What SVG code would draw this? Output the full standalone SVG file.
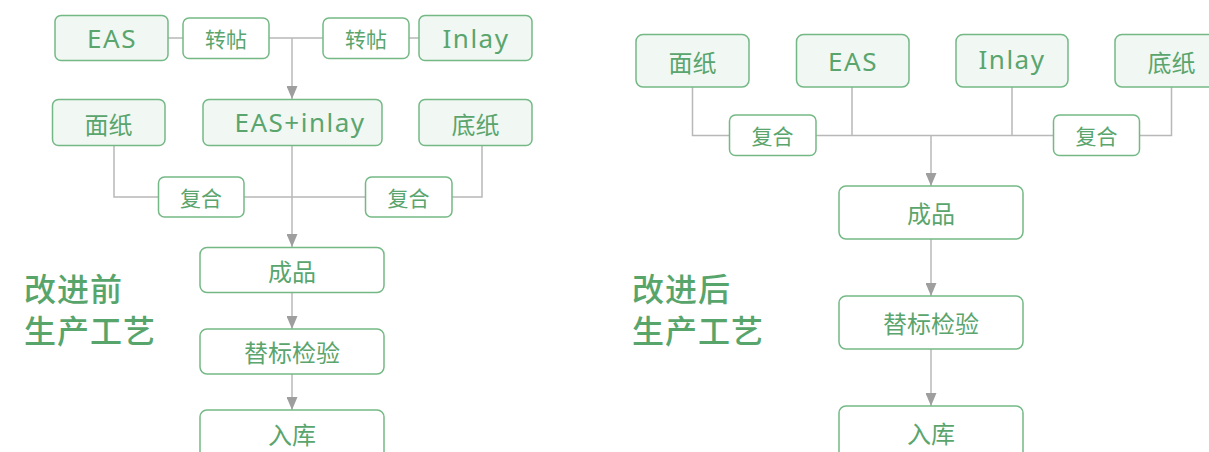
<svg xmlns="http://www.w3.org/2000/svg" width="1209" height="452" viewBox="0 0 1209 452">
<style>
.main{fill:#f1f7f3;stroke:#74b985;stroke-width:1.5}
.plain{fill:#ffffff;stroke:#74b985;stroke-width:1.5}
.cn{font-family:"Noto Sans","Noto Sans CJK SC",sans-serif;font-size:24px;fill:#5aa56d;text-anchor:middle;dominant-baseline:central}
.cs{font-family:"Noto Sans","Noto Sans CJK SC",sans-serif;font-size:21px;fill:#5aa56d;text-anchor:middle;dominant-baseline:central}
.en{font-family:"Noto Sans","Noto Sans CJK SC",sans-serif;font-size:26px;fill:#5aa56d;text-anchor:middle;letter-spacing:1.5px}
.title{font-family:"Noto Sans CJK SC",sans-serif;font-size:32px;font-weight:500;fill:#58a56c;letter-spacing:1px}
.ln{fill:none;stroke:#b8b8b8;stroke-width:1.5}
</style>
<defs>
<marker id="arr" markerWidth="13" markerHeight="11" refX="13" refY="5.5" orient="auto" markerUnits="userSpaceOnUse">
<path d="M0,0 L13,5.5 L0,11 Z" fill="#9e9e9e"/>
</marker>
</defs>
<g id="connectors">
<path class="ln" d="M168,38 H183 M269,38 H323 M409,38 H419"/>
<path class="ln" d="M292,38 V99" marker-end="url(#arr)"/>
<path class="ln" d="M114,145 V197 H158 M244,197 H365 M452,197 H482 V145"/>
<path class="ln" d="M292,145 V247" marker-end="url(#arr)"/>
<path class="ln" d="M292,292 V329" marker-end="url(#arr)"/>
<path class="ln" d="M292,374 V410" marker-end="url(#arr)"/>
<path class="ln" d="M692.5,87 V135.5 H729 M816,135.5 H1053 M852,87 V135.5 M1012,87 V135.5 M1171.5,87 V135.5 H1140"/>
<path class="ln" d="M931,135.5 V186" marker-end="url(#arr)"/>
<path class="ln" d="M931,239 V296" marker-end="url(#arr)"/>
<path class="ln" d="M931,349 V406" marker-end="url(#arr)"/>
</g>
<g id="title-before">
<text class="title" x="24" y="301">改进前</text>
<text class="title" x="24" y="343">生产工艺</text>
</g>
<g id="title-after">
<text class="title" x="632" y="301">改进后</text>
<text class="title" x="632" y="343">生产工艺</text>
</g>
<g id="l-eas"><rect class="main" x="55" y="15.5" width="113" height="45" rx="6"/><text class="en" x="112" y="47.5">EAS</text></g>
<g id="l-zt1"><rect class="plain" x="183" y="18" width="86" height="40.5" rx="6"/><text class="cs" x="226" y="39">转帖</text></g>
<g id="l-zt2"><rect class="plain" x="323" y="18" width="86" height="40.5" rx="6"/><text class="cs" x="366" y="39">转帖</text></g>
<g id="l-inlay"><rect class="main" x="419" y="15.5" width="113" height="45" rx="6"/><text class="en" x="476" y="47.5">Inlay</text></g>
<g id="l-mz"><rect class="main" x="52.5" y="99.5" width="112.5" height="46" rx="6"/><text class="cn" x="108.5" y="124">面纸</text></g>
<g id="l-easinlay"><rect class="main" x="203" y="99.5" width="179" height="46" rx="6"/><text class="en" x="300" y="132">EAS+inlay</text></g>
<g id="l-dz"><rect class="main" x="419" y="99.5" width="113" height="46" rx="6"/><text class="cn" x="475.5" y="124">底纸</text></g>
<g id="l-fh1"><rect class="plain" x="158.5" y="177" width="85.5" height="40" rx="6"/><text class="cs" x="201" y="198">复合</text></g>
<g id="l-fh2"><rect class="plain" x="365.5" y="177" width="86.5" height="40" rx="6"/><text class="cs" x="408.5" y="198">复合</text></g>
<g id="l-cp"><rect class="plain" x="200" y="247.5" width="184" height="45" rx="7"/><text class="cn" x="292" y="271">成品</text></g>
<g id="l-tb"><rect class="plain" x="200" y="329" width="184" height="45" rx="7"/><text class="cn" x="292" y="352.5">替标检验</text></g>
<g id="l-rk"><rect class="plain" x="200" y="410" width="184" height="50" rx="7"/><text class="cn" x="292" y="434">入库</text></g>
<g id="r-mz"><rect class="main" x="636" y="34.5" width="113" height="52.5" rx="7"/><text class="cn" x="692.5" y="62">面纸</text></g>
<g id="r-eas"><rect class="main" x="796.5" y="34.5" width="112.5" height="52.5" rx="7"/><text class="en" x="853" y="71">EAS</text></g>
<g id="r-inlay"><rect class="main" x="956" y="34.5" width="112" height="52.5" rx="7"/><text class="en" x="1012" y="69">Inlay</text></g>
<g id="r-dz"><rect class="main" x="1115" y="34.5" width="113" height="52.5" rx="7"/><text class="cn" x="1171.5" y="62">底纸</text></g>
<g id="r-fh1"><rect class="plain" x="729.5" y="115" width="86.5" height="40.5" rx="6"/><text class="cs" x="772.5" y="136">复合</text></g>
<g id="r-fh2"><rect class="plain" x="1053.5" y="115" width="86" height="40.5" rx="6"/><text class="cs" x="1096.5" y="136">复合</text></g>
<g id="r-cp"><rect class="plain" x="839" y="186" width="184" height="53" rx="7"/><text class="cn" x="931" y="213">成品</text></g>
<g id="r-tb"><rect class="plain" x="839" y="296" width="184" height="53" rx="7"/><text class="cn" x="931" y="323">替标检验</text></g>
<g id="r-rk"><rect class="plain" x="839" y="406" width="184" height="56" rx="7"/><text class="cn" x="931" y="433">入库</text></g>
</svg>
